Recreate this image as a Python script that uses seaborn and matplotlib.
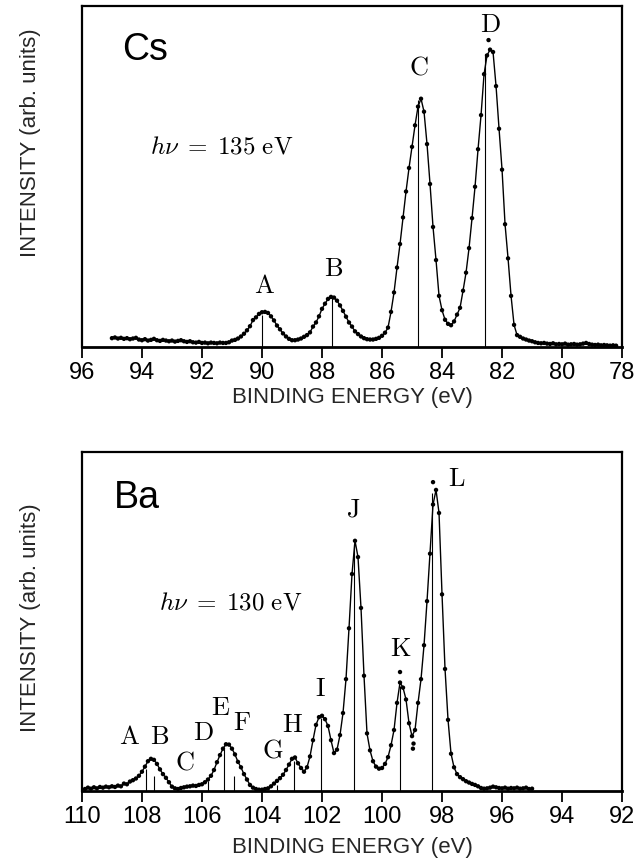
import numpy as np
import pandas as pd
import matplotlib
matplotlib.use("Agg")
import matplotlib.pyplot as plt
import seaborn as sns

sns.set_theme(style="white")
plt.rcParams["font.family"] = ["Liberation Sans", "DejaVu Sans"]
plt.rcParams["mathtext.fontset"] = "cm"

# ---------------- Cs panel data (binding energy grid 95.0 -> 78.2 eV) -------------
cs_energy = np.round(np.arange(950, 781, -1) / 10.0, 1)
cs_intensity = [
    .026, .028, .025, .027, .024, .026, .023, .025, .027, .022,   # 95.0-94.1
    .020, .023, .019, .021, .024, .020, .018, .021, .019, .017,   # 94.0-93.1
    .019, .016, .018, .020, .017, .015, .017, .014, .013, .015,   # 93.0-92.1
    .012, .013, .011, .013, .012, .011, .013, .012, .012, .014,   # 92.0-91.1
    .019, .021, .025, .031, .039, .049, .061, .079, .087, .097,   # 91.0-90.1
    .102, .103, .100, .090, .078, .063, .052, .040, .031, .024,   # 90.0-89.1
    .020, .020, .022, .025, .030, .035, .043, .060, .072, .090,   # 89.0-88.1
    .112, .127, .141, .147, .145, .136, .122, .106, .089, .072,   # 88.0-87.1
    .060, .046, .038, .031, .026, .023, .022, .022, .024, .027,   # 87.0-86.1
    .033, .042, .057, .103, .160, .233, .302, .380, .456, .525,   # 86.0-85.1
    .587, .650, .705, .728, .690, .595, .478, .352, .255, .150,   # 85.0-84.1
    .108, .080, .068, .064, .075, .095, .115, .165, .218, .290,   # 84.0-83.1
    .378, .470, .580, .680, .800, .855, .872, .865, .765, .640,   # 83.0-82.1
    .520, .360, .260, .150, .065, .035, .030, .025, .022, .019,   # 82.0-81.1
    .017, .014, .012, .011, .012, .010, .009, .011, .008, .009,   # 81.0-80.1
    .008, .010, .007, .008, .009, .007, .008, .010, .012, .009,   # 80.0-79.1
    .007, .006, .007, .005, .006, .005, .004, .005, .004,         # 79.0-78.2
]
cs_extra_e = [82.45]
cs_extra_i = [0.900]
cs_peak_labels = ["A", "B", "C", "D"]
cs_peak_pos = [90.0, 87.67, 84.81, 82.56]
cs_peak_hgt = [0.095, 0.145, 0.724, 0.860]
cs_label_x = [89.9, 87.6, 84.78, 82.4]
cs_label_y = [0.18, 0.23, 0.82, 0.945]

# ---------------- Ba panel data (binding energy grid 109.9 -> 95.0 eV) ------------
ba_energy = np.round(np.arange(1099, 949, -1) / 10.0, 1)
ba_intensity = [
    .006, .010, .007, .011, .008, .012, .010, .013, .011, .014,   # 109.9-109.0
    .012, .016, .014, .022, .020, .028, .032, .037, .045, .057,   # 108.9-108.0
    .072, .088, .095, .092, .080, .064, .050, .039, .026, .013,   # 107.9-107.0
    .008, .006, .009, .011, .013, .014, .016, .015, .018, .020,   # 106.9-106.0
    .026, .034, .045, .062, .085, .106, .125, .138, .137, .125,   # 105.9-105.0
    .108, .086, .070, .050, .034, .018, .010, .006, .004, .004,   # 104.9-104.0
    .006, .008, .014, .022, .030, .038, .048, .062, .078, .095,   # 103.9-103.0
    .099, .082, .068, .057, .070, .102, .150, .195, .218, .222,   # 102.9-102.0
    .212, .192, .150, .112, .122, .165, .230, .330, .480, .640,   # 101.9-101.0
    .738, .690, .540, .340, .170, .120, .088, .072, .066, .068,   # 100.9-100.0
    .080, .100, .135, .180, .260, .320, .305, .270, .200, .162,   # 99.9-99.0
    .180, .260, .330, .430, .560, .700, .845, .888, .820, .580,   # 98.9-98.0
    .360, .210, .110, .070, .050, .041, .035, .029, .025, .021,   # 97.9-97.0
    .018, .014, .009, .007, .008, .010, .013, .011, .009, .008,   # 96.9-96.0
    .010, .007, .009, .008, .010, .007, .008, .010, .006, .007,   # 95.9-95.0
]
ba_extra_e = [99.4, 98.3, 98.95, 98.97]
ba_extra_i = [0.351, 0.911, 0.140, 0.125]
ba_peak_labels = ["A", "B", "C", "D", "E", "F", "G", "H", "I", "J", "K", "L"]
ba_line_pos = [107.87, 107.61, 105.79, 105.25, 104.94, 103.5, 102.94, 102.02, 100.94, 99.41, 98.33]
ba_line_hgt = [0.065, 0.045, 0.030, 0.125, 0.045, 0.018, 0.088, 0.215, 0.730, 0.310, 0.880]
ba_label_x = [108.43, 107.42, 106.57, 105.96, 105.39, 104.66, 103.65, 102.98, 102.05, 100.95, 99.39, 97.5]
ba_label_y = [0.16, 0.16, 0.085, 0.17, 0.245, 0.20, 0.12, 0.195, 0.30, 0.83, 0.42, 0.92]

cs_ticks = [96, 94, 92, 90, 88, 86, 84, 82, 80, 78]
ba_ticks = [110, 108, 106, 104, 102, 100, 98, 96, 94, 92]

fig = plt.figure(figsize=(6.4, 8.65), dpi=100)
ax1 = fig.add_axes([0.128, 0.5988, 0.844, 0.3943])
ax2 = fig.add_axes([0.128, 0.0855, 0.844, 0.392])

TICK_FONT = ["Liberation Sans Narrow", "Liberation Sans", "DejaVu Sans"]


def draw(ax, energy, inten, xe, ye, lpos, lhgt, labels, lx, ly, ticks,
         elem, ex, ey, hv, hx, hy):
    df = pd.DataFrame({"E": energy, "I": inten})
    sns.lineplot(data=df, x="E", y="I", ax=ax, color="black", lw=1.0,
                 estimator=None)
    sns.scatterplot(data=df, x="E", y="I", ax=ax, color="black", s=10,
                    edgecolor="none", zorder=3)
    sns.scatterplot(x=xe, y=ye, ax=ax, color="black", s=10, edgecolor="none",
                    zorder=3)
    ax.vlines(lpos, 0, lhgt, color="black", lw=0.8)
    for t, x, y in zip(labels, lx, ly):
        ax.text(x, y, r"$\mathrm{%s}$" % t, ha="center", va="center",
                fontsize=19, color="black")
    ax.text(ex, ey, elem, ha="left", va="center", fontsize=27, color="black")
    ax.text(hx, hy, hv, ha="left", va="center", fontsize=18, color="black")
    ax.set_xlim(ticks[0], ticks[-1])
    ax.set_ylim(0, 1)
    ax.set_xticks(ticks)
    ax.set_xticklabels([str(t) for t in ticks], fontfamily=TICK_FONT)
    ax.set_yticks([])
    ax.set_xlabel("")
    ax.set_ylabel("")
    for s in ax.spines.values():
        s.set_visible(True)
        s.set_color("black")
        s.set_linewidth(1.6)
    ax.spines["bottom"].set_linewidth(2.0)
    ax.tick_params(axis="x", which="major", bottom=True, top=False,
                   direction="out", length=8, width=1.3, pad=3,
                   labelsize=17, colors="black")


draw(ax1, cs_energy, cs_intensity, cs_extra_e, cs_extra_i, cs_peak_pos,
     cs_peak_hgt, cs_peak_labels, cs_label_x, cs_label_y, cs_ticks,
     "Cs", 94.67, 0.87, r"$h\nu\;=\;135\ \mathrm{eV}$", 93.73, 0.587)
draw(ax2, ba_energy, ba_intensity, ba_extra_e, ba_extra_i, ba_line_pos,
     ba_line_hgt, ba_peak_labels, ba_label_x, ba_label_y, ba_ticks,
     "Ba", 108.95, 0.865, r"$h\nu\;=\;130\ \mathrm{eV}$", 107.44, 0.557)

fig.text(31 / 640, 1 - 143 / 865, "INTENSITY (arb. units)", rotation=90,
         ha="center", va="center", fontsize=16)
fig.text(31 / 640, 1 - 618 / 865, "INTENSITY (arb. units)", rotation=90,
         ha="center", va="center", fontsize=16)
fig.text(352 / 640, 1 - 397 / 865, "BINDING ENERGY (eV)", ha="center",
         va="center", fontsize=16)
fig.text(352 / 640, 1 - 848 / 865, "BINDING ENERGY (eV)", ha="center",
         va="center", fontsize=16)

fig.savefig("out.png", dpi=100)
